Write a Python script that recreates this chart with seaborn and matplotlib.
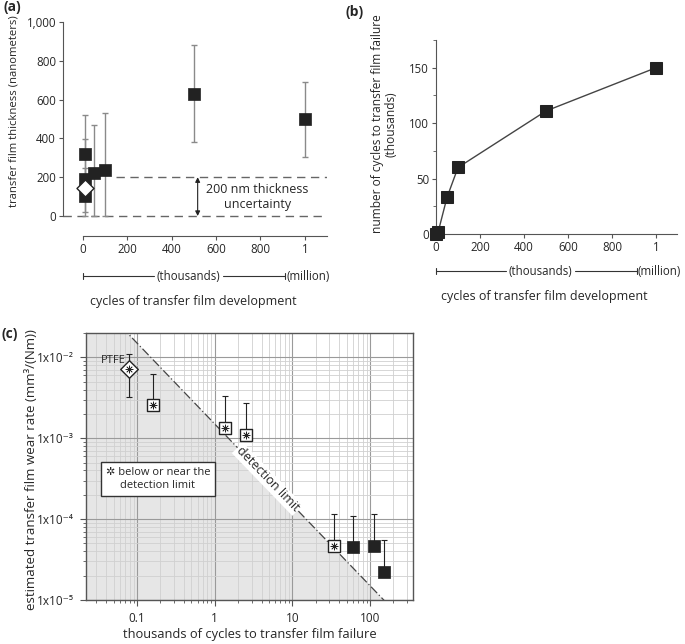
import numpy as np
import pandas as pd
import matplotlib
matplotlib.use("Agg")
import matplotlib.pyplot as plt
import seaborn as sns
from matplotlib.ticker import FixedLocator, NullFormatter, LogLocator

sns.set_style("ticks")
plt.rcParams['font.family'] = ['Open Sans', 'DejaVu Sans']
plt.rcParams['font.size'] = 8.5

# (a) transfer film thickness vs. development cycles (thousands)
dev_cycles = [10, 10, 10, 50, 100, 500, 1000]
thickness = [103, 190, 320, 222, 237, 630, 500]
thick_lo = [0, 20, 120, 0, 0, 380, 305]
thick_hi = [250, 395, 520, 470, 530, 880, 690]
ptfe_dev = [10]
ptfe_thick = [145]
a_xticks = [0, 200, 400, 600, 800, 1000]
a_xticklabels = ['0', '200', '400', '600', '800', '1']
a_yticks = [0, 200, 400, 600, 800, 1000]

# (b) cycles to failure vs. development cycles
b_dev = [0, 10, 50, 100, 500, 1000]
b_fail = [0, 2, 33, 60, 111, 150]

# (c) wear rate vs. cycles to failure (thousands)
star_fail = [0.16, 1.34, 2.5, 34]
star_rate = [2.6e-3, 1.33e-3, 1.1e-3, 4.7e-5]
star_hi = [6.3e-3, 3.3e-3, 2.7e-3, 1.15e-4]
solid_fail = [61, 112, 150]
solid_rate = [4.5e-5, 4.7e-5, 2.2e-5]
solid_hi = [1.1e-4, 1.15e-4, 5.5e-5]
ptfe_fail = [0.079]
ptfe_rate = [7.1e-3]
ptfe_lo = [3.2e-3]
ptfe_hi = [1.1e-2]
detect_const = 1.5e-3      # detection limit: rate = const / cycles
c_xticks = [0.1, 1, 10, 100]
c_xticklabels = ['0.1', '1', '10', '100']
c_yticks = [1e-5, 1e-4, 1e-3, 1e-2]
c_yticklabels = ['1x10⁻⁵', '1x10⁻⁴', '1x10⁻³', '1x10⁻²']

dark = '#222222'
spine_c = '#555555'

fig = plt.figure(figsize=(6.85, 6.44), dpi=100)
axA = fig.add_axes([63/685, 1-236/644, 264/685, 214/644])
axB = fig.add_axes([436/685, 1-234/644, 241/685, 194/644])
axC = fig.add_axes([86/685, 1-600/644, 327/685, 267/644])


def bracket(ax, y, h):
    tr = ax.get_xaxis_transform()
    kw = dict(color='#333333', lw=0.8, transform=tr, clip_on=False)
    ax.plot([0, 320], [y, y], **kw)
    ax.plot([630, 912], [y, y], **kw)
    ax.plot([0, 0], [y - h, y + h], **kw)
    ax.plot([912, 912], [y - h, y + h], **kw)
    ax.text(475, y, '(thousands)', transform=tr, ha='center', va='center', fontsize=8.3)
    ax.text(1016, y, '(million)', transform=tr, ha='center', va='center', fontsize=8.3)


# ---------------- (a) ----------------
dfa = pd.DataFrame({'dev': dev_cycles, 'thick': thickness})
yerr = [np.array(thickness) - np.array(thick_lo), np.array(thick_hi) - np.array(thickness)]
axA.errorbar(dev_cycles, thickness, yerr=yerr, fmt='none', ecolor='#8a8a8a',
             elinewidth=1, capsize=2, capthick=1, zorder=2)
axA.plot([-90, 1100], [0, 0], ls=(0, (6, 4)), color='#666666', lw=1, zorder=1)
axA.plot([150, 1100], [200, 200], ls=(0, (6, 4)), color='#666666', lw=1, zorder=1)
sns.scatterplot(data=dfa, x='dev', y='thick', marker='s', s=85, color=dark,
                edgecolor=dark, linewidth=0.5, ax=axA, zorder=3, clip_on=False)
sns.scatterplot(x=ptfe_dev, y=ptfe_thick, marker='D', s=75, color='white',
                edgecolor=dark, linewidth=1, ax=axA, zorder=4)
axA.annotate('', xy=(517, 200), xytext=(517, 0),
             arrowprops=dict(arrowstyle='<|-|>', color=dark, lw=0.8, mutation_scale=7,
                             shrinkA=0, shrinkB=0))
axA.text(785, 97, '200 nm thickness\nuncertainty', ha='center', va='center', fontsize=9)
axA.set_xlim(-90, 1100)
axA.set_ylim(-103, 1000)
axA.set_xticks(a_xticks)
axA.set_xticklabels(a_xticklabels)
axA.set_yticks(a_yticks)
axA.set_yticklabels([f'{v:,}' for v in a_yticks])
sns.despine(ax=axA)
axA.spines['left'].set_bounds(0, 1000)
axA.spines['bottom'].set_bounds(0, 1100)
axA.set_xlabel('cycles of transfer film development', fontsize=9, va='center')
axA.xaxis.set_label_coords(0.492, -0.308)
axA.set_ylabel('transfer film thickness (nanometers)', fontsize=8.1, va='center')
axA.yaxis.set_label_coords(-0.186, 0.585)
bracket(axA, -0.187, 0.014)

# ---------------- (b) ----------------
sns.lineplot(x=b_dev, y=b_fail, marker='s', markersize=9, color='#444444', lw=1,
             markerfacecolor=dark, markeredgecolor=dark, ax=axB, clip_on=False, zorder=3)
axB.set_xlim(0, 1095)
axB.set_ylim(0, 175)
axB.set_xticks(a_xticks)
axB.set_xticklabels(a_xticklabels)
axB.set_yticks([0, 50, 100, 150])
axB.yaxis.set_minor_locator(FixedLocator([25, 75, 125, 175]))
sns.despine(ax=axB)
axB.set_xlabel('cycles of transfer film development', fontsize=9, va='center')
axB.xaxis.set_label_coords(0.448, -0.32)
axB.set_ylabel('number of cycles to transfer film failure\n(thousands)', fontsize=8.6,
               va='center', linespacing=1.05)
axB.yaxis.set_label_coords(-0.216, 0.567)
bracket(axB, -0.191, 0.015)

for ax in (axA, axB):
    for sp in ax.spines.values():
        sp.set_color(spine_c)
    ax.tick_params(which='major', length=3, color=spine_c, labelsize=8.3, pad=2)
    ax.tick_params(which='minor', length=2, color=spine_c)

# ---------------- (c) ----------------
axC.set_xscale('log')
axC.set_yscale('log')
axC.set_axisbelow(True)
axC.grid(True, which='major', color='#9a9a9a', lw=0.8)
axC.grid(True, which='minor', color='#d0d0d0', lw=0.6)
lim_x = [0.01, 1000]
lim_y = [detect_const / v for v in lim_x]
axC.fill_between(lim_x, 1e-7, lim_y, color='#e6e6e6', lw=0, zorder=0.3)
axC.plot(lim_x, lim_y, ls=(0, (7, 2, 1, 2)), color='#444444', lw=0.9, zorder=1)

axC.errorbar(star_fail, star_rate, yerr=[np.zeros(len(star_rate)), np.array(star_hi) - np.array(star_rate)],
             fmt='none', ecolor=dark, elinewidth=0.8, capsize=2.5, capthick=0.8, zorder=2)
axC.errorbar(solid_fail, solid_rate, yerr=[np.zeros(len(solid_rate)), np.array(solid_hi) - np.array(solid_rate)],
             fmt='none', ecolor=dark, elinewidth=0.8, capsize=2.5, capthick=0.8, zorder=2)
axC.errorbar(ptfe_fail, ptfe_rate, yerr=[np.array(ptfe_rate) - np.array(ptfe_lo), np.array(ptfe_hi) - np.array(ptfe_rate)],
             fmt='none', ecolor=dark, elinewidth=0.8, capsize=2.5, capthick=0.8, zorder=2)

sns.scatterplot(x=star_fail, y=star_rate, marker='s', s=65, color='white',
                edgecolor=dark, linewidth=1, ax=axC, zorder=4)
sns.scatterplot(x=solid_fail, y=solid_rate, marker='s', s=80, color=dark,
                edgecolor=dark, linewidth=0.5, ax=axC, zorder=4)
sns.scatterplot(x=ptfe_fail, y=ptfe_rate, marker='D', s=80, color='white',
                edgecolor=dark, linewidth=1, ax=axC, zorder=4)
axC.plot(star_fail + ptfe_fail, star_rate + ptfe_rate, ls='none', marker=(8, 2, 0),
         ms=5.5, mec=dark, mew=0.5, zorder=5)

axC.text(0.071, 9.2e-3, 'PTFE', ha='right', va='center', fontsize=8)
axC.text(4.8, detect_const / 4.8, 'detection limit', rotation=-46, ha='center', va='center',
         rotation_mode='anchor', fontsize=9,
         bbox=dict(boxstyle='square,pad=0.1', fc='white', ec='none'), zorder=3)
axC.text(0.22, 0.453, '✲ below or near the\ndetection limit', transform=axC.transAxes,
         ha='center', va='center', fontsize=8, zorder=6,
         bbox=dict(boxstyle='square,pad=0.45', fc='white', ec='#333333', lw=1))

axC.set_xlim(0.022, 357)
axC.set_ylim(1e-5, 2e-2)
axC.xaxis.set_major_locator(FixedLocator(c_xticks))
axC.set_xticklabels(c_xticklabels)
axC.yaxis.set_major_locator(FixedLocator(c_yticks))
axC.set_yticklabels(c_yticklabels)
axC.xaxis.set_minor_locator(LogLocator(base=10, subs=np.arange(2, 10), numticks=20))
axC.yaxis.set_minor_locator(LogLocator(base=10, subs=np.arange(2, 10), numticks=20))
axC.xaxis.set_minor_formatter(NullFormatter())
axC.yaxis.set_minor_formatter(NullFormatter())
for sp in axC.spines.values():
    sp.set_color(spine_c)
    sp.set_linewidth(1)
axC.tick_params(which='major', length=4, color=spine_c, labelsize=8.5, pad=5)
axC.tick_params(which='minor', length=2.5, color=spine_c)
axC.set_xlabel('thousands of cycles to transfer film failure', fontsize=9.3, va='center')
axC.xaxis.set_label_coords(0.5, -0.131)
axC.set_ylabel('estimated transfer film wear rate (mm³/(Nm))', fontsize=9.5, va='center')
axC.yaxis.set_label_coords(-0.168, 0.487)

fig.text(3/685, 1-7/644, '(a)', fontsize=10, fontweight='bold', va='center')
fig.text(345/685, 1-12/644, '(b)', fontsize=10, fontweight='bold', va='center')
fig.text(1/685, 1-334/644, '(c)', fontsize=10, fontweight='bold', va='center')

fig.savefig('out.png', dpi=100)
